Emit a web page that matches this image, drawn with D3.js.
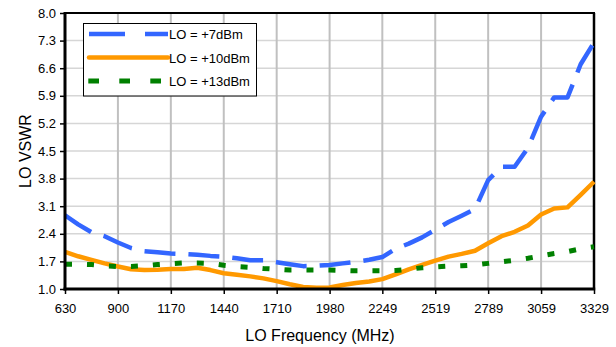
<!DOCTYPE html>
<html><head><meta charset="utf-8">
<script src="https://cdn.jsdelivr.net/npm/d3@7"></script>
<style>
html,body{margin:0;padding:0;background:#fff;}
text{font-family:Arial,"Liberation Sans",sans-serif;fill:#000;}
</style></head>
<body>
<svg id="chart" width="616" height="347"></svg>
<script>
const freqs = [630,697,765,832,900,967,1035,1102,1170,1237,1305,1372,1440,1507,1575,1642,1710,1777,1845,1912,1980,2047,2114,2182,2249,2317,2384,2452,2519,2587,2654,2722,2789,2857,2924,2992,3059,3126,3194,3261,3329];
const lo7 = [2.87,2.64,2.44,2.34,2.18,2.04,1.96,1.93,1.90,1.89,1.87,1.84,1.82,1.78,1.73,1.73,1.68,1.63,1.58,1.59,1.61,1.65,1.69,1.74,1.81,2.02,2.15,2.31,2.50,2.70,2.86,3.03,3.76,4.10,4.10,4.58,5.37,5.86,5.86,6.70,7.25];
const lo10 = [1.94,1.83,1.74,1.65,1.57,1.50,1.48,1.49,1.51,1.51,1.54,1.48,1.40,1.36,1.32,1.27,1.20,1.12,1.05,1.03,1.04,1.10,1.15,1.19,1.25,1.37,1.50,1.61,1.72,1.82,1.89,1.97,2.16,2.34,2.45,2.61,2.89,3.04,3.07,3.39,3.72];
const lo13 = [1.63,1.63,1.62,1.59,1.57,1.57,1.59,1.62,1.64,1.66,1.66,1.65,1.60,1.57,1.55,1.52,1.50,1.48,1.48,1.48,1.48,1.47,1.46,1.46,1.46,1.47,1.50,1.54,1.56,1.58,1.59,1.61,1.65,1.69,1.73,1.78,1.84,1.90,1.95,2.02,2.07];
const seriesNames = ["LO = +7dBm","LO = +10dBm","LO = +13dBm"];
const xTicks = [630,900,1170,1440,1710,1980,2249,2519,2789,3059,3329];
const yTicks = [1.0,1.7,2.4,3.1,3.8,4.5,5.2,5.9,6.6,7.3,8.0];
const xTitle = "LO Frequency (MHz)";
const yTitle = "LO VSWR";

const svg = d3.select("#chart");
const L = 65, R = 594, T = 13, B = 289;
const x = d3.scaleLinear().domain([630,3329]).range([L,R]);
const y = d3.scaleLinear().domain([1.0,8.0]).range([B,T]);

// gridlines
svg.append("g").selectAll("line").data(yTicks.slice(1)).join("line")
  .attr("x1",L).attr("x2",R).attr("y1",d=>y(d)).attr("y2",d=>y(d))
  .attr("stroke","#d6d6d6").attr("stroke-width",1.5);
svg.append("g").selectAll("line").data(xTicks.slice(1)).join("line")
  .attr("y1",T).attr("y2",B).attr("x1",d=>x(d)).attr("x2",d=>x(d))
  .attr("stroke","#c0c0c0").attr("stroke-width",2);

// frame top/right
svg.append("line").attr("x1",L).attr("x2",R+1).attr("y1",T).attr("y2",T).attr("stroke","#000").attr("stroke-width",2);
svg.append("line").attr("x1",R).attr("x2",R).attr("y1",T).attr("y2",B).attr("stroke","#000").attr("stroke-width",2.5);

// series
const styles = [
  {vals:lo7, color:"#3366ff", w:4.5, dash:"31,13"},
  {vals:lo10, color:"#ff9900", w:4.5, dash:null},
  {vals:lo13, color:"#008000", w:5, dash:"7,15"}
];
const line = d3.line().x(d=>x(d[0])).y(d=>y(d[1]));
const gS = svg.append("g").attr("clip-path",null);
[styles[1],styles[2],styles[0]].forEach(s=>{
  const p = gS.append("path").datum(freqs.map((f,i)=>[f,s.vals[i]]))
    .attr("d",line).attr("fill","none").attr("stroke",s.color)
    .attr("stroke-width",s.w).attr("stroke-linejoin","round");
  if(s.dash) p.attr("stroke-dasharray",s.dash);
});

// axes
const yAxis = svg.append("g").attr("transform",`translate(${L},0)`)
  .call(d3.axisLeft(y).tickValues(yTicks).tickFormat(d3.format(".1f")).tickSize(5).tickPadding(4));
const xAxis = svg.append("g").attr("transform",`translate(0,${B})`)
  .call(d3.axisBottom(x).tickValues(xTicks).tickFormat(d=>d).tickSize(5).tickPadding(10));
[yAxis,xAxis].forEach(a=>{
  a.select(".domain").attr("stroke","#000").attr("stroke-width",3);
  a.selectAll(".tick line").attr("stroke","#000").attr("stroke-width",1.5);
  a.selectAll(".tick text").attr("font-size",13).attr("font-family","Arial, 'Liberation Sans', sans-serif").attr("fill","#000");
});
yAxis.select(".domain").attr("d",`M0,${T-1}V${B+1.5}`);
xAxis.select(".domain").attr("d",`M${L-1.5},0H${R+1.2}`);

// titles
svg.append("text").attr("x",320).attr("y",341).attr("text-anchor","middle").attr("font-size",16).text(xTitle);
svg.append("text").attr("transform",`translate(31,${(T+B)/2}) rotate(-90)`).attr("text-anchor","middle").attr("font-size",16).text(yTitle);

// legend
const lg = svg.append("g");
lg.append("rect").attr("x",83.5).attr("y",23.5).attr("width",173).attr("height",72.5)
  .attr("fill","#fff").attr("stroke","#000").attr("stroke-width",1);
const legY = [34,57.5,81];
const legDash = ["36,20",null,"10.7,20.3"];
styles.forEach((s,i)=>{
  const l = lg.append("line").attr("x1",i===2?88.3:89).attr("x2",168).attr("y1",legY[i]).attr("y2",legY[i])
    .attr("stroke",s.color).attr("stroke-width",i===2?5:4.5);
  if(legDash[i]) l.attr("stroke-dasharray",legDash[i]); else l.attr("stroke-linecap","round");
  lg.append("text").attr("x",169).attr("y",legY[i]+5).attr("font-size",13).text(seriesNames[i]);
});
</script>
</body></html>
